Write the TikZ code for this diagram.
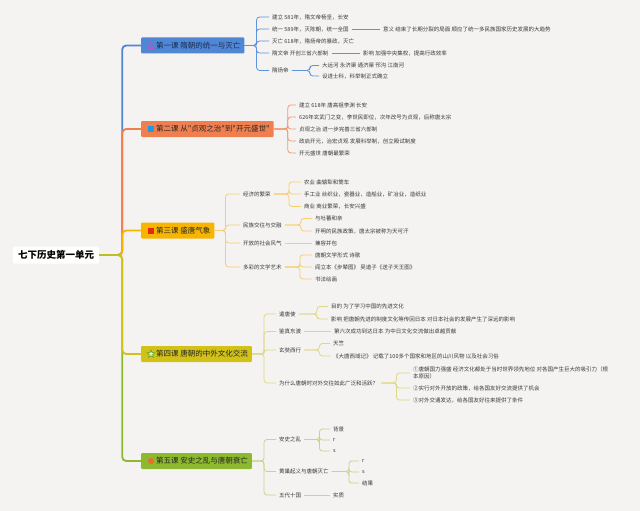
\documentclass[tikz,border=0pt]{standalone}
\usepackage{fontspec}
\setmainfont{Noto Sans CJK SC}
\newfontfamily\qfont{Noto Sans CJK SC}
\usetikzlibrary{shapes.geometric}
\definecolor{bg}{HTML}{F4F3F2}
\definecolor{txt}{HTML}{3A3A3A}
\definecolor{cA}{HTML}{4F87D6}
\definecolor{cB}{HTML}{F07F50}
\definecolor{cC}{HTML}{F7B500}
\definecolor{cD}{HTML}{D2C116}
\definecolor{cE}{HTML}{8DB92E}
\definecolor{lA}{HTML}{5D93DA}
\definecolor{lB}{HTML}{F39A70}
\definecolor{lC}{HTML}{F5CF70}
\definecolor{lD}{HTML}{E0D785}
\definecolor{lE}{HTML}{C3D68A}
\definecolor{rootln}{HTML}{BEBE28}
\definecolor{iconA}{HTML}{B058C0}
\definecolor{iconB}{HTML}{1E9BE0}
\definecolor{iconC}{HTML}{E5261B}
\definecolor{iconDd}{HTML}{50A028}
\definecolor{iconDf}{HTML}{F0EBAA}
\definecolor{iconE}{HTML}{EE6A2F}
\definecolor{navy}{HTML}{1C2A4A}
\tikzset{
  rootbox/.style={fill=white, font=\fontsize{9.5}{11}\selectfont\bfseries, text=black, inner xsep=5pt, minimum height=17pt, rounded corners=1pt},
  lesson/.style={anchor=west, font=\fontsize{7.5}{9}\selectfont, text=black!85, inner xsep=4pt, minimum height=16pt, rounded corners=1pt},
  leaf/.style={anchor=west, font=\fontsize{5.5}{7.5}\selectfont, text=txt, inner xsep=3pt, inner ysep=1pt},
  trunk/.style={line width=1.8pt, rounded corners=4pt},
  conn/.style={line width=0.8pt, rounded corners=3pt},
}
\newcommand{\sq}{{\qfont"}}
\begin{document}
\begin{tikzpicture}[x=1pt,y=-1pt]
\fill[bg] (0,0) rectangle (640,511);
\useasboundingbox (0,0) rectangle (640,511);

% root
\node[rootbox] (root) at (56,255) {七下历史第一单元};

% lessons
\node[lesson, fill=cA, text=navy] (L1) at (141,45.5) {\hspace{11pt}第一课 隋朝的统一与灭亡};
\node[lesson, fill=cB] (L2) at (141,129) {\hspace{11pt}第二课 从\sq 贞观之治\sq 到\sq 开元盛世\sq};
\node[lesson, fill=cC] (L3) at (141,230.5) {\hspace{11pt}第三课 盛唐气象};
\node[lesson, fill=cD] (L4) at (141,354) {\hspace{11pt}第四课 唐朝的中外文化交流};
\node[lesson, fill=cE] (L5) at (141,461) {\hspace{11pt}第五课 安史之乱与唐朝衰亡};

% icons
\draw[line width=1pt, draw=iconA, line join=round] ([xshift=7pt,yshift=-3pt]L1.west) -- ([xshift=10pt,yshift=3.5pt]L1.west) -- ([xshift=13pt,yshift=-3pt]L1.west) -- cycle;
\fill[iconB] ([xshift=7pt,yshift=-3pt]L2.west) rectangle ([xshift=13pt,yshift=3pt]L2.west);
\fill[iconC] ([xshift=7pt,yshift=-3pt]L3.west) rectangle ([xshift=13pt,yshift=3pt]L3.west);
\node[star, star points=5, star point ratio=2.2, draw=iconDd, fill=iconDf, line width=0.6pt, minimum size=8pt, inner sep=0pt] (S4) at ([xshift=10pt]L4.west) {};
\fill[iconE] ([xshift=10pt]L5.west) circle (3pt);

% trunk
\draw[trunk, draw=cA] (root.east) -- ++(23,0) |- (L1.west);
\draw[trunk, draw=cB] (root.east) -- ++(23,0) |- (L2.west);
\draw[trunk, draw=cE] (root.east) -- ++(23,0) |- (L5.west);
\draw[trunk, draw=cD] (root.east) -- ++(23,0) |- (L4.west);
\draw[trunk, draw=cC] (root.east) -- ++(23,0) |- (L3.west);
\draw[line width=1.8pt, draw=rootln] (root.east) -- ++(21,0);

% ---------- lesson 1
\node[leaf] (a11) at (269,17) {建立 581年，隋文帝杨坚，长安};
\node[leaf] (a12) at (269,29) {统一 589年，灭陈朝，统一全国};
\node[leaf] (a13) at (269,41) {灭亡 618年，隋炀帝的暴政，灭亡};
\node[leaf] (a14) at (269,53) {隋文帝 开创三省六部制};
\node[leaf] (a15) at (269,70.5) {隋炀帝};
\node[leaf] (b12) at (380,29) {意义 结束了长期分裂的局面 顺应了统一多民族国家历史发展的大趋势};
\node[leaf] (b14) at (360,53) {影响 加强中央集权，提高行政效率};
\node[leaf] (b151) at (319,65.5) {大运河 永济渠 通济渠 邗沟 江南河};
\node[leaf] (b152) at (319,76) {设进士科，科举制正式确立};
\foreach \c in {a11,a12,a13,a14,a15} \draw[conn, draw=lA] (L1.east) -- ++(12,0) |- (\c.west);
\draw[conn, draw=lA] (a12.east) -- (b12.west);
\draw[conn, draw=lA] (a14.east) -- (b14.west);
\foreach \c in {b151,b152} \draw[conn, draw=lA] (a15.east) -- ++(18,0) |- (\c.west);

% ---------- lesson 2
\node[leaf] (a21) at (296,105) {建立 618年 唐高祖李渊 长安};
\node[leaf] (a22) at (296,117) {626年玄武门之变，李世民即位，次年改号为贞观，后称唐太宗};
\node[leaf] (a23) at (296,129) {贞观之治 进一步完善三省六部制};
\node[leaf] (a24) at (296,141) {政启开元，治宏贞观 发展科举制，创立殿试制度};
\node[leaf] (a25) at (296,153) {开元盛世 唐朝最繁荣};
\foreach \c in {a21,a22,a23,a24,a25} \draw[conn, draw=lB] (L2.east) -- ++(14,0) |- (\c.west);

% ---------- lesson 3
\node[leaf] (a31) at (240,194) {经济的繁荣};
\node[leaf] (a32) at (240,225) {民族交往与交融};
\node[leaf] (a33) at (240,243) {开放的社会风气};
\node[leaf] (a34) at (240,267) {多彩的文学艺术};
\node[leaf] (b311) at (301,182) {农业 曲辕犁和筒车};
\node[leaf] (b312) at (301,194) {手工业 丝织业，瓷器业，造船业，矿冶业，造纸业};
\node[leaf] (b313) at (301,206.5) {商业 商业繁荣，长安兴盛};
\node[leaf] (b321) at (312,218.5) {与吐蕃和亲};
\node[leaf] (b322) at (312,231) {开明的民族政策，唐太宗被称为天可汗};
\node[leaf] (b331) at (312,243) {兼容并包};
\node[leaf] (b341) at (312,255) {唐朝文学形式 诗歌};
\node[leaf] (b342) at (312,267) {阎立本《步辇图》 吴道子《送子天王图》};
\node[leaf] (b343) at (312,279) {书法绘画};
\foreach \c in {a31,a32,a33,a34} \draw[conn, draw=lC] (L3.east) -- ++(11,0) |- (\c.west);
\foreach \c in {b311,b312,b313} \draw[conn, draw=lC] (a31.east) -- ++(15,0) |- (\c.west);
\foreach \c in {b321,b322} \draw[conn, draw=lC] (a32.east) -- ++(16,0) |- (\c.west);
\draw[conn, draw=lC] (a33.east) -- (b331.west);
\foreach \c in {b341,b342,b343} \draw[conn, draw=lC] (a34.east) -- ++(15,0) |- (\c.west);

% ---------- lesson 4
\node[leaf] (a41) at (276,314) {遣唐使};
\node[leaf] (a42) at (276,331.5) {鉴真东渡};
\node[leaf] (a43) at (276,350) {玄奘西行};
\node[leaf] (a44) at (276,383) {为什么唐朝时对外交往如此广泛和活跃？};
\node[leaf] (b411) at (328,306.5) {目的 为了学习中国的先进文化};
\node[leaf] (b412) at (328,319) {影响 把唐朝先进的制度文化等传回日本 对日本社会的发展产生了深远的影响};
\node[leaf] (b421) at (331,331.5) {第六次成功到达日本 为中日文化交流做出卓越贡献};
\node[leaf] (b431) at (330,343.5) {天竺};
\node[leaf] (b432) at (330,356) {《大唐西域记》 记载了100多个国家和地区的山川风物 以及社会习俗};
\node[leaf, align=left] (b441) at (410,373) {①唐朝国力强盛 经济文化都处于当时世界领先地位 对各国产生巨大的吸引力（根\\本原因）};
\node[leaf] (b442) at (410,388) {②实行对外开放的政策，给各国友好交流提供了机会};
\node[leaf] (b443) at (410,400) {③对外交通发达，给各国友好往来提供了条件};
\foreach \c in {a41,a42,a43,a44} \draw[conn, draw=lD] (L4.east) -- ++(12,0) |- (\c.west);
\foreach \c in {b411,b412} \draw[conn, draw=lD] (a41.east) -- ++(18,0) |- (\c.west);
\draw[conn, draw=lD] (a42.east) -- (b421.west);
\foreach \c in {b431,b432} \draw[conn, draw=lD] (a43.east) -- ++(15,0) |- (\c.west);
\foreach \c in {b441,b442,b443} \draw[conn, draw=lD] (a44.east) -- ++(15,0) |- (\c.west);

% ---------- lesson 5
\node[leaf] (a51) at (276,439.5) {安史之乱};
\node[leaf] (a52) at (276,471.5) {黄巢起义与唐朝灭亡};
\node[leaf] (a53) at (276,495) {五代十国};
\node[leaf] (b511) at (330,429) {背景};
\node[leaf] (b512) at (330,440) {r};
\node[leaf] (b513) at (330,451) {s};
\node[leaf] (b521) at (359,461) {r};
\node[leaf] (b522) at (359,472) {s};
\node[leaf] (b523) at (359,483) {结果};
\node[leaf] (b531) at (330,495) {实质};
\foreach \c in {a51,a52,a53} \draw[conn, draw=lE] (L5.east) -- ++(12,0) |- (\c.west);
\foreach \c in {b511,b512,b513} \draw[conn, draw=lE] (a51.east) -- ++(15,0) |- (\c.west);
\foreach \c in {b521,b522,b523} \draw[conn, draw=lE] (a52.east) -- ++(17,0) |- (\c.west);
\draw[conn, draw=lE] (a53.east) -- (b531.west);
\end{tikzpicture}
\end{document}
